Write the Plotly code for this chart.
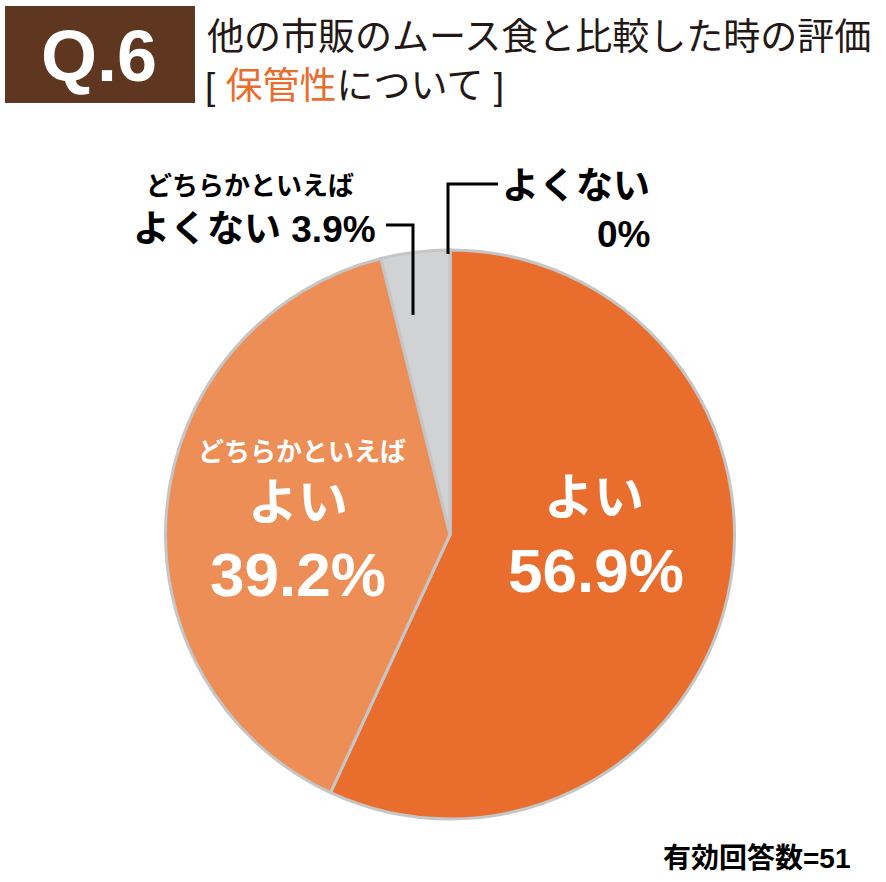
import plotly.graph_objects as go

# values
labels = ["よい", "どちらかといえばよい", "どちらかといえばよくない", "よくない"]
values = [56.9, 39.2, 3.9, 0.0]
colors = ["#e96d2c", "#ed8e56", "#d1d2d4", "#d1d2d4"]
title_line1 = "他の市販のムース食と比較した時の評価"
title_topic = "保管性"
n_answers = 51

W, H = 886, 882
FONT = "Liberation Sans, Noto Sans CJK JP"
BROWN = "#5f3720"
ORANGE = "#e96d2c"


def px(x):
    return x / W


def py(y):
    return 1 - y / H


fig = go.Figure(go.Pie(
    labels=labels, values=values, sort=False, direction="clockwise", rotation=0,
    marker=dict(colors=colors, line=dict(color="#c5c6c8", width=3)),
    textinfo="none", hoverinfo="label+percent", showlegend=False,
    domain=dict(x=[px(161), px(739)], y=[py(819), py(250)]),
))

ann = []


def txt(x, y, s, size, color="black", bold=True, xanchor="center"):
    ann.append(dict(x=px(x), y=py(y), xref="paper", yref="paper", text=f"<b>{s}</b>" if bold else s,
                    showarrow=False, xanchor=xanchor, yanchor="middle",
                    font=dict(family=FONT, size=size, color=color)))


# header
txt(99, 56, "Q.6", 72, "white")
txt(205, 38, title_line1, 37, "#231815", bold=False, xanchor="left")
txt(203, 86, f"[ <span style='color:{ORANGE}'>{title_topic}</span>について ]", 37, "#231815",
    bold=False, xanchor="left")

# inside labels
txt(594, 498, labels[0], 50, "white")
txt(596, 570, f"{values[0]:.1f}%", 62, "white")
txt(302, 452, "どちらかといえば", 26, "white")
txt(298, 503, "よい", 50, "white")
txt(298, 574, f"{values[1]:.1f}%", 62, "white")

# outside labels
txt(250, 186, "どちらかといえば", 26)
txt(378, 229, f"よくない {values[2]:.1f}%", 37, xanchor="right")
txt(652, 186, labels[3], 37, xanchor="right")
txt(652, 234, f"{values[3]:.0f}%", 37, xanchor="right")

txt(853, 858, f"有効回答数={n_answers}", 28, xanchor="right")

shapes = [
    dict(type="rect", xref="paper", yref="paper", x0=px(5), x1=px(195), y0=py(103), y1=py(6),
         fillcolor=BROWN, line=dict(width=0), layer="below"),
    # leader lines
    dict(type="path", xref="paper", yref="paper",
         path=f"M {px(386)} {py(225)} L {px(413)} {py(225)} L {px(413)} {py(315)}",
         line=dict(color="black", width=3)),
    dict(type="path", xref="paper", yref="paper",
         path=f"M {px(498)} {py(184)} L {px(448)} {py(184)} L {px(448)} {py(254)}",
         line=dict(color="black", width=3)),
]

fig.update_layout(width=W, height=H, margin=dict(l=0, r=0, t=0, b=0),
                  paper_bgcolor="white", plot_bgcolor="white",
                  annotations=ann, shapes=shapes)
fig.write_html("out.html", config=dict(displayModeBar=False),
               post_script="document.body.style.margin='0';")
